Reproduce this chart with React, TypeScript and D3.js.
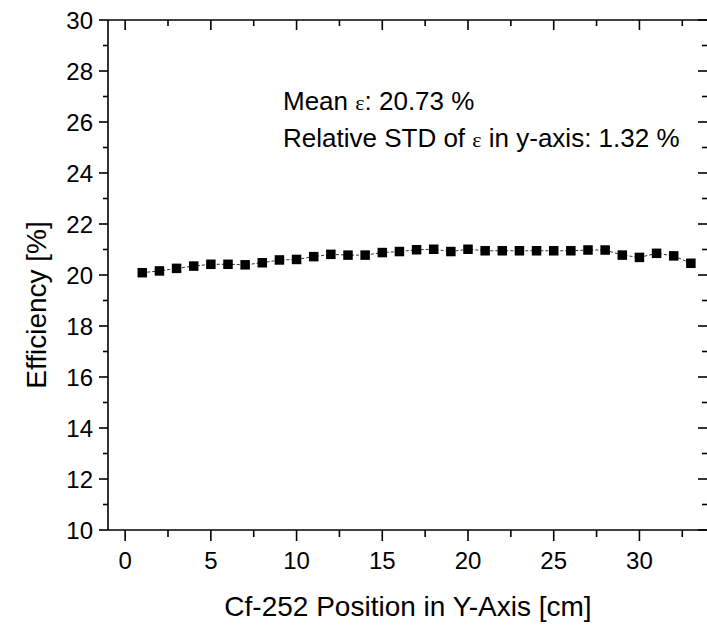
import React from "react";
import * as d3 from "d3";

const positions = [1,2,3,4,5,6,7,8,9,10,11,12,13,14,15,16,17,18,19,20,21,22,23,24,25,26,27,28,29,30,31,32,33];
const efficiency = [20.09,20.16,20.26,20.35,20.42,20.42,20.40,20.48,20.59,20.61,20.72,20.81,20.78,20.78,20.88,20.92,20.99,21.01,20.92,21.01,20.95,20.95,20.95,20.95,20.95,20.95,20.98,20.98,20.78,20.69,20.85,20.75,20.46];
const xTicks = [0,5,10,15,20,25,30];
const yTicks = [10,12,14,16,18,20,22,24,26,28,30];
const xLabel = "Cf-252 Position in Y-Axis [cm]";
const yLabel = "Efficiency [%]";
const meanText = ["Mean ", "ε", ": 20.73 %"];
const stdText = ["Relative STD of ", "ε", " in y-axis: 1.32 %"];

const W = 707, H = 626;
const L = 108, R = 708, T = 20, B = 530;
const FONT = "'Liberation Sans', Arial, sans-serif";
const SERIF = "'Liberation Serif', 'Times New Roman', serif";

export default function App() {
  const x = d3.scaleLinear().domain([-1, 34]).range([L, R]);
  const y = d3.scaleLinear().domain([10, 30]).range([B, T]);
  const xMinor = d3.range(-0, 34, 2.5).filter(v => !xTicks.includes(v));
  const yMinor = d3.range(11, 30, 2);
  const line = d3.line<number>().x((_, i) => x(positions[i])).y(d => y(d));
  const sw = 1.6;
  return (
    <svg width={W} height={H} style={{ position: "absolute", left: 0, top: 0, background: "#fff" }}>
      <rect x={0} y={0} width={W} height={H} fill="#fff" />
      {/* frame */}
      <line x1={L} x2={L} y1={T} y2={B} stroke="#000" strokeWidth={sw} />
      <line x1={L} x2={R} y1={B} y2={B} stroke="#000" strokeWidth={sw} />
      <line x1={L} x2={R} y1={T} y2={T} stroke="#000" strokeWidth={sw} />
      <line x1={R} x2={R} y1={T} y2={B} stroke="#000" strokeWidth={sw} />
      {/* bottom ticks (outward) and top ticks (inward) */}
      {xTicks.map(v => (
        <g key={"xt" + v}>
          <line x1={x(v)} x2={x(v)} y1={B} y2={B + 11} stroke="#000" strokeWidth={sw} />
          <line x1={x(v)} x2={x(v)} y1={T} y2={T + 10} stroke="#000" strokeWidth={sw} />
          <text x={x(v)} y={B + 39} textAnchor="middle" fontFamily={FONT} fontSize={24}>{v}</text>
        </g>
      ))}
      {xMinor.map(v => (
        <g key={"xm" + v}>
          <line x1={x(v)} x2={x(v)} y1={B} y2={B + 7} stroke="#000" strokeWidth={sw} />
          <line x1={x(v)} x2={x(v)} y1={T} y2={T + 6} stroke="#000" strokeWidth={sw} />
        </g>
      ))}
      {yTicks.map(v => (
        <g key={"yt" + v}>
          <line x1={L - 9} x2={L} y1={y(v)} y2={y(v)} stroke="#000" strokeWidth={sw} />
          <line x1={R - 10} x2={R} y1={y(v)} y2={y(v)} stroke="#000" strokeWidth={sw} />
          <text x={L - 15} y={y(v) + 9} textAnchor="end" fontFamily={FONT} fontSize={24}>{v}</text>
        </g>
      ))}
      {yMinor.map(v => (
        <g key={"ym" + v}>
          <line x1={L - 5} x2={L} y1={y(v)} y2={y(v)} stroke="#000" strokeWidth={sw} />
          <line x1={R - 6} x2={R} y1={y(v)} y2={y(v)} stroke="#000" strokeWidth={sw} />
        </g>
      ))}
      {/* data */}
      <path d={line(efficiency) || ""} fill="none" stroke="#333" strokeWidth={1} strokeDasharray="3,2" />
      {efficiency.map((v, i) => (
        <rect key={"p" + i} x={x(positions[i]) - 4.75} y={y(v) - 4.75} width={9.5} height={9.5} fill="#000" />
      ))}
      {/* annotations */}
      <text x={283} y={110} fontFamily={FONT} fontSize={26}>
        {meanText[0]}<tspan fontFamily={SERIF} fontSize={22}>{meanText[1]}</tspan>{meanText[2]}
      </text>
      <text x={283} y={147} fontFamily={FONT} fontSize={26}>
        {stdText[0]}<tspan fontFamily={SERIF} fontSize={22}>{stdText[1]}</tspan>{stdText[2]}
      </text>
      {/* axis titles */}
      <text x={(L + R) / 2} y={616} textAnchor="middle" fontFamily={FONT} fontSize={28}>{xLabel}</text>
      <text transform={`translate(46, 305) rotate(-90)`} textAnchor="middle" fontFamily={FONT} fontSize={28}>{yLabel}</text>
    </svg>
  );
}
